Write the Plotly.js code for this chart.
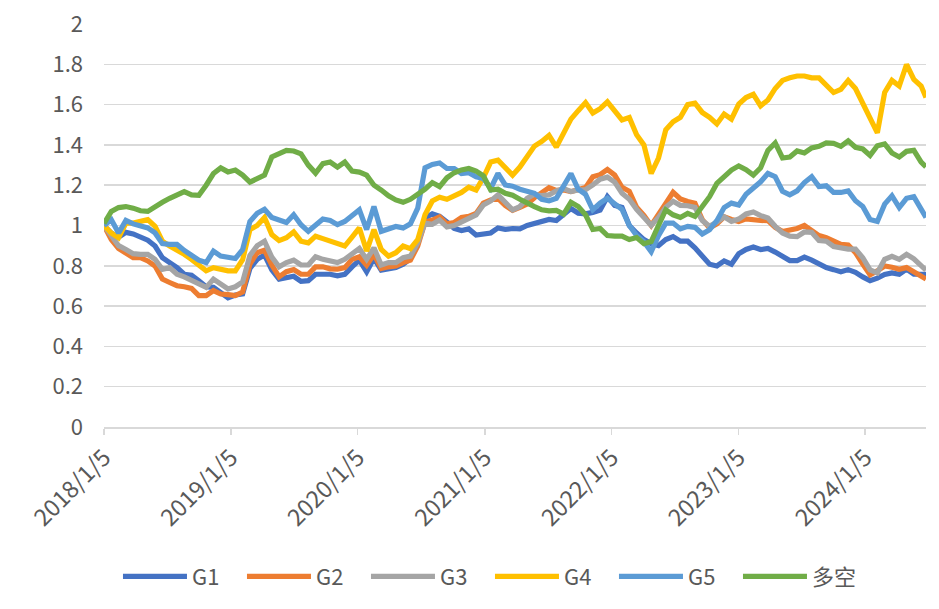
<!DOCTYPE html>
<html>
<head>
<meta charset="utf-8">
<script src="https://cdn.plot.ly/plotly-3.0.1.min.js"></script>
<style>
html,body{margin:0;padding:0;background:#fff;}
#chart{width:939px;height:609px;}
</style>
</head>
<body>
<div id="chart"></div>
<script>
const startDate = '2018-01-05';
const stepDays = 21;
const lastDate = '2024-06-28';

const seriesNames = ['G1', 'G2', 'G3', 'G4', 'G5', '多空'];
const seriesColors = ['#4472C4', '#ED7D31', '#A5A5A5', '#FFC000', '#5B9BD5', '#70AD47'];

const xTickVals = ['2018-01-05','2019-01-05','2020-01-05','2021-01-05','2022-01-05','2023-01-05','2024-01-05'];
const xTickText = ['2018/1/5','2019/1/5','2020/1/5','2021/1/5','2022/1/5','2023/1/5','2024/1/5'];
const yTickVals = [0, 0.2, 0.4, 0.6, 0.8, 1, 1.2, 1.4, 1.6, 1.8, 2];
const yTickText = ['0','0.2','0.4','0.6','0.8','1','1.2','1.4','1.6','1.8','2'];

const g1 = [
1.0,0.963,0.942,0.966,0.958,0.939,0.927,0.898,0.84,0.816,
0.791,0.758,0.753,0.726,0.696,0.693,0.665,0.641,0.655,0.66,
0.787,0.832,0.853,0.78,0.734,0.742,0.748,0.723,0.726,0.758,
0.758,0.758,0.75,0.758,0.795,0.828,0.77,0.837,0.778,0.783,
0.791,0.808,0.836,0.914,1.037,1.058,1.046,1.017,0.985,0.975,
0.983,0.953,0.955,0.963,0.988,0.981,0.985,0.983,1.0,1.01,
1.02,1.03,1.025,1.051,1.084,1.061,1.058,1.065,1.076,1.143,
1.10,1.09,1.0,0.963,0.93,0.91,0.9,0.93,0.945,0.922,
0.922,0.889,0.848,0.808,0.799,0.824,0.808,0.86,0.881,0.893,
0.881,0.886,0.868,0.85,0.826,0.826,0.843,0.828,0.81,0.791,
0.781,0.77,0.781,0.768,0.745,0.726,0.739,0.757,0.765,0.758,
0.783,0.758,0.758,0.758];

const g2 = [
1.0,0.93,0.886,0.865,0.84,0.84,0.824,0.799,0.734,0.717,
0.701,0.696,0.688,0.652,0.652,0.677,0.66,0.657,0.652,0.67,
0.808,0.865,0.877,0.804,0.745,0.771,0.781,0.758,0.758,0.795,
0.795,0.785,0.783,0.791,0.832,0.845,0.803,0.857,0.787,0.795,
0.799,0.816,0.828,0.898,1.017,1.027,1.043,1.008,1.015,1.04,
1.045,1.06,1.111,1.127,1.135,1.099,1.075,1.09,1.107,1.138,
1.165,1.188,1.174,1.176,1.168,1.176,1.188,1.242,1.252,1.278,
1.25,1.19,1.17,1.09,1.05,1.0,1.05,1.11,1.165,1.132,
1.119,1.111,1.029,0.988,1.008,1.043,1.03,1.02,1.033,1.027,
1.025,1.024,0.991,0.97,0.976,0.985,1.0,0.978,0.95,0.939,
0.92,0.906,0.903,0.865,0.808,0.755,0.775,0.799,0.793,0.783,
0.791,0.77,0.742,0.734];

const g3 = [
1.0,0.947,0.90,0.881,0.86,0.857,0.857,0.832,0.783,0.791,
0.758,0.745,0.726,0.706,0.693,0.734,0.709,0.685,0.696,0.72,
0.851,0.90,0.922,0.843,0.795,0.816,0.828,0.804,0.804,0.845,
0.832,0.824,0.816,0.832,0.86,0.886,0.832,0.889,0.804,0.816,
0.816,0.84,0.848,0.914,1.012,1.006,1.027,0.993,1.0,1.017,
1.037,1.053,1.102,1.122,1.152,1.111,1.078,1.094,1.135,1.155,
1.148,1.152,1.172,1.183,1.168,1.176,1.178,1.201,1.23,1.24,
1.215,1.16,1.13,1.08,1.04,1.0,1.04,1.09,1.12,1.10,
1.098,1.09,1.025,0.996,1.017,1.043,1.02,1.032,1.057,1.067,
1.049,1.037,0.996,0.963,0.947,0.945,0.968,0.966,0.925,0.922,
0.896,0.888,0.883,0.883,0.84,0.78,0.765,0.832,0.847,0.832,
0.857,0.835,0.799,0.778];

const g4 = [
1.0,0.963,0.939,1.012,1.012,1.02,1.029,0.996,0.922,0.898,
0.881,0.857,0.832,0.804,0.775,0.791,0.783,0.775,0.775,0.83,
0.98,1.0,1.04,0.955,0.925,0.939,0.968,0.922,0.914,0.947,
0.935,0.922,0.906,0.898,0.942,0.988,0.873,0.98,0.881,0.848,
0.865,0.898,0.885,0.93,1.053,1.122,1.14,1.13,1.147,1.164,
1.19,1.176,1.238,1.315,1.324,1.291,1.25,1.29,1.348,1.394,
1.417,1.447,1.389,1.463,1.528,1.57,1.61,1.558,1.58,1.614,
1.57,1.524,1.536,1.45,1.40,1.258,1.335,1.475,1.515,1.537,
1.6,1.607,1.561,1.537,1.504,1.553,1.528,1.602,1.635,1.651,
1.594,1.623,1.68,1.72,1.733,1.742,1.742,1.733,1.733,1.70,
1.66,1.676,1.72,1.68,1.61,1.53,1.46,1.66,1.72,1.692,
1.799,1.725,1.692,1.635];

const g5 = [
1.0,1.029,0.963,1.025,1.008,0.996,0.988,0.963,0.91,0.906,
0.906,0.876,0.852,0.828,0.816,0.873,0.848,0.84,0.836,0.88,
1.02,1.061,1.081,1.04,1.025,1.015,1.053,1.004,0.971,1.0,
1.032,1.025,1.004,1.02,1.049,1.078,0.98,1.094,0.971,0.985,
0.995,0.988,1.008,1.086,1.286,1.303,1.31,1.283,1.283,1.258,
1.262,1.242,1.234,1.184,1.258,1.201,1.195,1.18,1.172,1.16,
1.13,1.122,1.135,1.193,1.258,1.18,1.155,1.078,1.111,1.135,
1.11,1.08,1.0,0.95,0.92,0.87,0.95,1.012,1.012,0.983,
0.996,0.991,0.958,0.979,1.024,1.089,1.111,1.102,1.155,1.184,
1.217,1.258,1.242,1.17,1.152,1.172,1.213,1.242,1.193,1.197,
1.164,1.164,1.172,1.123,1.094,1.03,1.02,1.106,1.147,1.089,
1.135,1.143,1.078,1.04];

const longShort = [
1.01,1.07,1.089,1.094,1.086,1.073,1.07,1.089,1.115,1.135,
1.155,1.168,1.152,1.15,1.20,1.258,1.286,1.266,1.275,1.25,
1.215,1.234,1.25,1.34,1.36,1.373,1.37,1.356,1.30,1.26,
1.307,1.315,1.29,1.315,1.27,1.265,1.25,1.2,1.176,1.147,
1.127,1.115,1.13,1.155,1.18,1.213,1.193,1.237,1.262,1.276,
1.283,1.27,1.247,1.176,1.18,1.16,1.15,1.13,1.115,1.094,
1.078,1.073,1.075,1.057,1.115,1.094,1.053,0.98,0.985,0.95,
0.947,0.947,0.93,0.94,0.91,0.92,1.0,1.078,1.053,1.04,
1.06,1.045,1.094,1.143,1.209,1.245,1.275,1.296,1.277,1.25,
1.286,1.373,1.41,1.335,1.34,1.37,1.36,1.385,1.393,1.41,
1.408,1.393,1.42,1.388,1.38,1.348,1.396,1.405,1.36,1.34,
1.368,1.373,1.315,1.291];

const seriesValues = [g1, g2, g3, g4, g5, longShort];

// date index: every stepDays from startDate, last point at lastDate
function buildDates(n) {
  const out = [];
  const t0 = Date.parse(startDate + 'T00:00:00Z');
  for (let i = 0; i < n - 1; i++) {
    out.push(new Date(t0 + i * stepDays * 86400000).toISOString().slice(0, 10));
  }
  out.push(lastDate);
  return out;
}
const dates = buildDates(g1.length);

const FONT = '"Noto Sans CJK SC", "Noto Sans", sans-serif';

const traces = seriesNames.map((name, i) => ({
  type: 'scatter',
  mode: 'lines',
  name: name,
  x: dates,
  y: seriesValues[i],
  line: {color: seriesColors[i], width: 5.2},
  hoverinfo: 'skip'
}));

const layout = {
  width: 939,
  height: 609,
  margin: {l: 104, r: 13, t: 24, b: 178},
  paper_bgcolor: '#ffffff',
  plot_bgcolor: '#ffffff',
  font: {family: FONT, size: 22, color: '#595959'},
  showlegend: true,
  legend: {
    orientation: 'h',
    x: 0.017,
    xanchor: 'left',
    y: -0.371,
    yanchor: 'middle',
    font: {family: FONT, size: 22, color: '#595959'},
    itemwidth: 64,
    entrywidth: 45,
    entrywidthmode: 'pixels',
    bgcolor: 'rgba(0,0,0,0)'
  },
  xaxis: {
    type: 'date',
    range: [startDate, lastDate],
    tickvals: xTickVals,
    ticktext: xTickText,
    tickangle: -45,
    ticks: 'outside',
    ticklen: 6,
    tickwidth: 1.5,
    tickcolor: '#d9d9d9',
    showline: true,
    linecolor: '#d9d9d9',
    linewidth: 1.5,
    showgrid: false,
    zeroline: false,
    tickfont: {family: FONT, size: 23.5, color: '#595959'}
  },
  yaxis: {
    range: [0, 2],
    tickvals: yTickVals,
    ticktext: yTickText,
    showgrid: true,
    gridcolor: '#d9d9d9',
    gridwidth: 1.5,
    zeroline: false,
    showline: false,
    ticks: '',
    ticklabelstandoff: 20,
    tickfont: {family: FONT, size: 22, color: '#595959'}
  }
};

Plotly.newPlot('chart', traces, layout, {displayModeBar: false, staticPlot: true});
</script>
</body>
</html>
